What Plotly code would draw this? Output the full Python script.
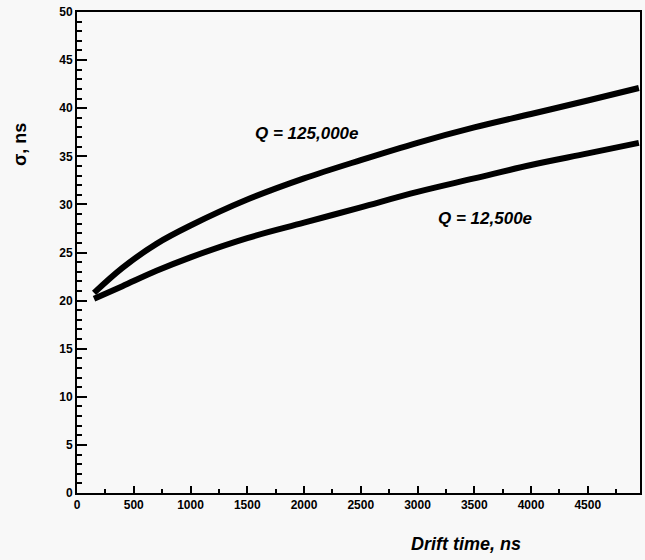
import plotly.graph_objects as go

drift_time = [150, 400, 700, 1000, 1500, 2000, 2500, 3000, 3500, 4000, 4500, 4950]
sigma_q125000 = [20.8, 23.4, 25.9, 27.8, 30.5, 32.7, 34.6, 36.4, 38.0, 39.4, 40.8, 42.1]
sigma_q12500 = [20.2, 21.5, 23.1, 24.5, 26.5, 28.1, 29.7, 31.3, 32.7, 34.1, 35.3, 36.4]

x_ticks = [0, 500, 1000, 1500, 2000, 2500, 3000, 3500, 4000, 4500]
y_ticks = [0, 5, 10, 15, 20, 25, 30, 35, 40, 45, 50]

BG = "#f8f8f8"
FONT = "Liberation Sans"

fig = go.Figure()
fig.add_trace(go.Scatter(x=drift_time, y=sigma_q125000, mode="lines",
                         line=dict(color="black", width=6, shape="spline", smoothing=1.0),
                         name="Q = 125,000e", showlegend=False))
fig.add_trace(go.Scatter(x=drift_time, y=sigma_q12500, mode="lines",
                         line=dict(color="black", width=6, shape="spline", smoothing=1.0),
                         name="Q = 12,500e", showlegend=False))

pl, pr, pt, pb = 77, 5, 12, 67
W, H = 645, 560

fig.update_layout(
    width=W, height=H,
    margin=dict(l=pl, r=pr, t=pt, b=pb),
    paper_bgcolor=BG, plot_bgcolor=BG,
    font=dict(family=FONT, color="black"),
    xaxis=dict(range=[0, 4960], tickvals=x_ticks, ticks="inside", ticklen=7,
               tickwidth=1.5, tickcolor="black",
               minor=dict(ticks="inside", ticklen=4, dtick=250, tick0=0, tickcolor="black"),
               showline=True, linecolor="black", linewidth=2, mirror=True,
               showgrid=False, zeroline=False, automargin=False,
               tickfont=dict(family=FONT, size=12, weight="bold")),
    yaxis=dict(range=[0, 50], tickvals=y_ticks, ticks="inside", ticklen=10,
               tickwidth=1.5, tickcolor="black",
               minor=dict(ticks="inside", ticklen=5, dtick=1, tick0=0, tickcolor="black"),
               showline=True, linecolor="black", linewidth=2, mirror=True,
               showgrid=False, zeroline=False, automargin=False,
               tickfont=dict(family=FONT, size=12, weight="bold")),
)

# annotation positions given in pixel coordinates of the 645x560 picture
labels = [
    ("<b><i>Q = 125,000e</i></b>", 307, 133, 17, 0),
    ("<b><i>Q = 12,500e</i></b>", 485, 218, 17, 0),
    ("<b><i>Drift time, ns</i></b>", 466, 544, 18, 0),
    ("<b>σ, ns</b>", 20, 145, 18, -90),
]
pw, ph = W - pl - pr, H - pt - pb
for text, px, py, size, ang in labels:
    fig.add_annotation(text=text, x=(px - pl) / pw, y=1 - (py - pt) / ph,
                       xref="paper", yref="paper", xanchor="center", yanchor="middle",
                       showarrow=False, textangle=ang, font=dict(family=FONT, size=size))

fig.write_html("out.html", config={"displayModeBar": False},
               post_script="document.body.style.margin='0px';document.body.style.overflow='hidden';")
